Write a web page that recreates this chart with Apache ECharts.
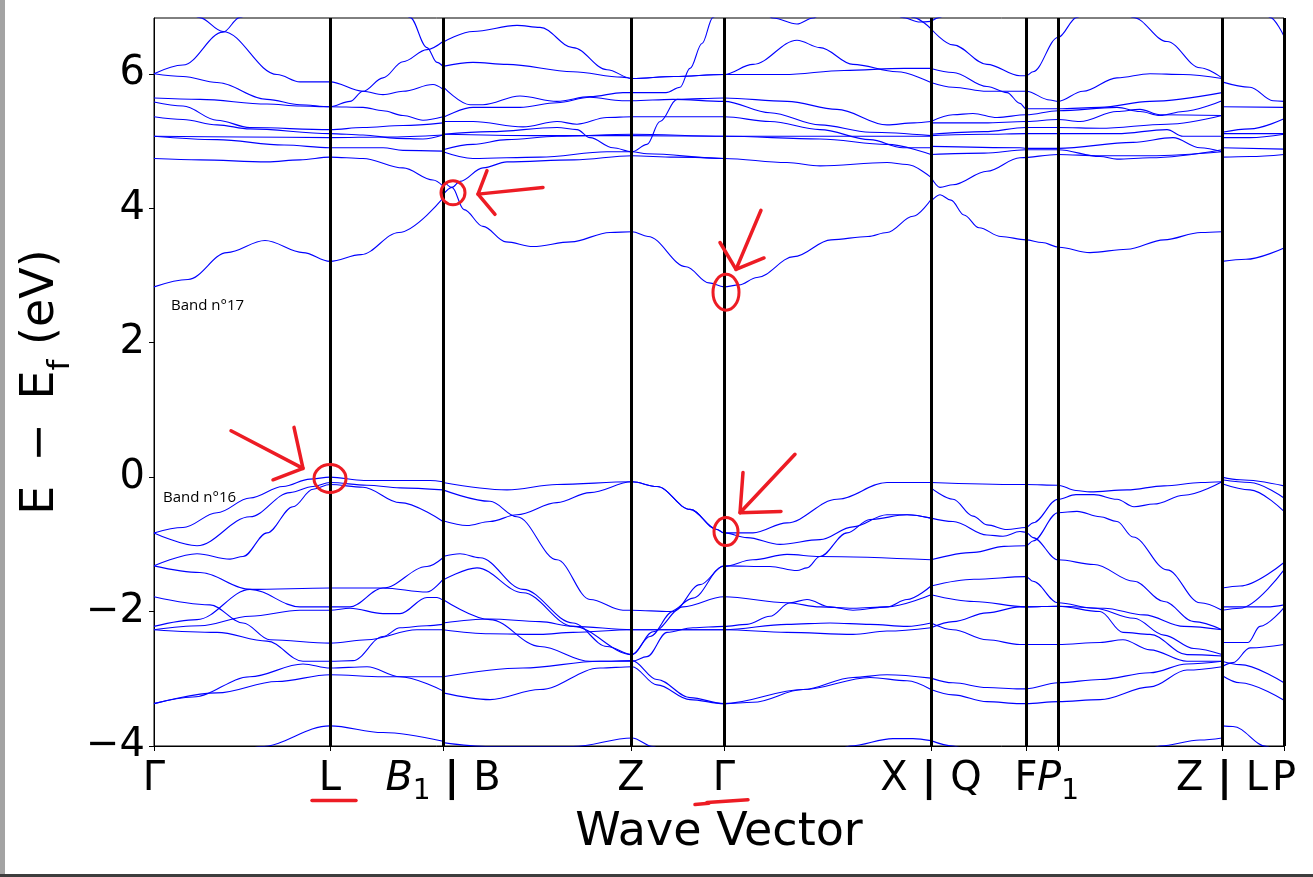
<!DOCTYPE html>
<html><head><meta charset="utf-8">
<script src="https://cdn.jsdelivr.net/npm/echarts@6/dist/echarts.min.js"></script>
<style>html,body{margin:0;padding:0;background:#fff;}#c{width:1313px;height:877px;}</style>
</head><body><div id="c"></div>
<script>
// High-symmetry points (path length) and their labels
const kPoints = [0, 176, 289, 477, 570, 777, 872, 904, 1068, 1130];
const kLabels = ['{m|Γ}', '{m|L}', '{i|B}{s|1}{b| | }{m|B}', '{m|Z}', '{m|Γ}', '{m|X}{b| | }{m|Q}', '{m|F}', '{i|P}{s|1}', '{m|Z}{b| | }{m|L}', '{m|P}'];
const yTicks = [-4, -2, 0, 2, 4, 6];
const yTitle = '{m|E \u2009−\u2009 E}{s|f}{m| (eV)}';

// Bands along Γ → L → B1   ([k, E-Ef] pairs)
const bandsGammaLB1 = [
  [[0,6.0],[29,6.13],[69,6.62],[86,6.84],[110,7.2]],
  [[25,7.2],[45,6.84],[69,6.63],[123,5.99],[146,5.88],[176,5.88],[209,5.74],[229,5.69],[249,5.74],[279,5.84],[289,5.77]],
  [[0,6.0],[29,5.96],[63,5.87],[113,5.62],[146,5.54],[176,5.51],[196,5.59],[209,5.74],[229,5.94],[249,6.18],[273,6.36],[289,6.48]],
  [[0,5.64],[46,5.62],[113,5.55],[146,5.52],[176,5.51],[209,5.50],[229,5.45],[249,5.38],[269,5.31],[289,5.36]],
  [[0,5.58],[29,5.52],[63,5.31],[96,5.2],[176,5.17],[209,5.2],[249,5.23],[289,5.27]],
  [[0,5.36],[29,5.32],[63,5.24],[96,5.18],[176,5.11],[209,5.09],[243,5.04],[269,5.03],[289,5.09]],
  [[0,5.07],[88,5.06],[176,5.05],[232,5.06],[289,5.09]],
  [[0,5.07],[63,5.02],[130,4.94],[176,4.90],[229,4.90],[249,4.86],[289,4.85]],
  [[0,4.74],[46,4.72],[113,4.69],[146,4.72],[176,4.76],[209,4.74],[249,4.60],[279,4.42],[289,4.33]],
  [[0,2.83],[34,2.94],[73,3.34],[111,3.52],[149,3.34],[176,3.21],[207,3.31],[245,3.64],[289,4.15]],
  [[240,7.2],[256,6.84],[273,6.39],[283,6.17],[289,6.11]],
  [[0,-0.83],[29,-0.75],[63,-0.53],[96,-0.31],[129,-0.14],[156,-0.03],[176,0.0],[210,-0.05],[246,-0.05],[276,-0.05],[289,-0.07]],
  [[0,-0.83],[43,-1.02],[96,-0.59],[136,-0.23],[159,-0.14],[176,-0.08],[213,-0.12],[246,-0.16],[289,-0.19]],
  [[0,-1.32],[43,-1.14],[76,-1.22],[89,-1.18],[113,-0.83],[139,-0.44],[159,-0.18],[176,-0.11],[209,-0.15],[246,-0.38],[289,-0.66]],
  [[0,-1.32],[46,-1.42],[96,-1.67],[146,-1.93],[176,-1.93],[196,-1.93],[229,-1.65],[273,-1.33],[289,-1.2]],
  [[0,-2.22],[43,-2.12],[96,-1.67],[176,-1.65],[229,-1.65],[273,-1.71],[289,-1.52]],
  [[0,-2.27],[46,-2.21],[96,-2.07],[146,-1.98],[176,-1.98],[196,-1.95],[229,-2.03],[246,-2.03],[273,-1.79],[283,-1.79],[289,-1.83]],
  [[0,-2.27],[63,-2.31],[113,-2.44],[149,-2.74],[176,-2.74],[199,-2.73],[229,-2.37],[246,-2.24],[273,-2.21],[289,-2.19]],
  [[0,-1.78],[56,-1.90],[89,-2.17],[116,-2.42],[176,-2.47],[213,-2.42],[263,-2.27],[289,-2.27]],
  [[0,-3.37],[39,-3.27],[96,-2.97],[149,-2.78],[176,-2.84],[213,-2.82],[246,-2.97],[289,-3.18]],
  [[0,-3.37],[63,-3.21],[123,-3.04],[176,-2.94],[229,-2.97],[289,-2.97]],
  [[70,-4.3],[106,-4.01],[176,-3.70],[229,-3.80],[289,-3.93]]
];

// Bands along B → Z → Γ → X
const bandsBZGammaX = [
  [[289,6.47],[319,6.63],[363,6.72],[386,6.69],[419,6.39],[453,6.06],[478,5.93],[520,5.96],[570,5.99],[599,6.14],[643,6.5],[666,6.39],[699,6.14],[743,6.03],[777,5.87]],
  [[289,6.11],[319,6.17],[353,6.14],[419,6.03],[468,5.95],[478,5.93],[520,5.96],[570,5.99],[630,5.99],[690,6.05],[750,6.08],[777,6.08]],
  [[289,5.81],[316,5.54],[329,5.54],[366,5.67],[403,5.59],[436,5.66],[469,5.72],[478,5.72],[512,5.72],[526,5.8],[536,6.08],[548,6.45],[559,6.84],[570,7.2]],
  [[289,5.35],[319,5.5],[366,5.5],[403,5.57],[436,5.65],[468,5.6],[478,5.6],[519,5.62],[570,5.59],[616,5.42],[666,5.24],[716,5.13],[777,5.08]],
  [[289,5.29],[319,5.29],[369,5.21],[403,5.29],[423,5.25],[453,5.35],[478,5.36],[570,5.36],[616,5.29],[666,5.17],[716,5.02],[749,4.9],[777,4.9]],
  [[289,5.10],[336,5.14],[403,5.2],[423,5.17],[436,5.05],[459,4.9],[478,4.84],[493,4.95],[506,5.29],[523,5.62],[570,5.64],[633,5.59],[683,5.47],[733,5.24],[760,5.27],[777,5.29]],
  [[289,5.10],[380,5.08],[478,5.08],[570,5.07],[700,5.07],[777,5.07]],
  [[289,4.87],[319,4.95],[353,5.02],[403,5.07],[478,5.10],[570,5.07],[666,5.03],[733,4.95],[777,4.8]],
  [[289,4.84],[319,4.74],[386,4.76],[453,4.84],[478,4.84],[493,4.81],[570,4.74],[633,4.68],[666,4.63],[733,4.68],[753,4.65],[777,4.46]],
  [[289,4.2],[298,4.31],[306,4.4],[329,4.6],[353,4.69],[420,4.72],[478,4.78],[520,4.76],[570,4.74]],
  [[289,4.42],[298,4.31],[310,3.98],[329,3.73],[352,3.5],[379,3.43],[417,3.5],[456,3.64],[478,3.65],[494,3.58],[532,3.13],[555,2.89],[570,2.83],[585,2.86],[603,2.97],[640,3.28],[677,3.53],[714,3.58],[733,3.64],[759,3.88],[777,4.13]],
  [[600,7.2],[619,6.83],[643,6.74],[659,6.83],[680,7.2]],
  [[730,7.2],[748,6.84],[766,6.77],[777,6.78]],
  [[740,7.3],[759,6.84],[777,6.67]],
  [[289,-0.08],[353,-0.19],[403,-0.11],[478,-0.07],[503,-0.14],[536,-0.48],[563,-0.78],[570,-0.83],[599,-0.83],[633,-0.68],[683,-0.33],[733,-0.08],[777,-0.08]],
  [[289,-0.65],[313,-0.72],[336,-0.66],[363,-0.56],[403,-0.38],[436,-0.23],[478,-0.07],[503,-0.14],[536,-0.48],[563,-0.78],[570,-0.83],[593,-0.9],[626,-1.0],[666,-0.93],[699,-0.74],[733,-0.56],[753,-0.56],[777,-0.61]],
  [[289,-0.19],[336,-0.36],[363,-0.59],[403,-1.23],[436,-1.82],[469,-1.98],[478,-1.98],[516,-2.0],[539,-1.8],[569,-1.33],[599,-1.23],[633,-1.15],[666,-1.18],[777,-1.23]],
  [[289,-1.18],[306,-1.14],[326,-1.2],[369,-1.67],[419,-2.17],[453,-2.52],[478,-2.64],[499,-2.3],[529,-1.93],[570,-1.78],[633,-1.87],[666,-1.93],[699,-1.95],[733,-1.93],[777,-1.75]],
  [[289,-1.53],[323,-1.35],[369,-1.72],[419,-2.22],[478,-2.64],[496,-2.37],[519,-2.0],[546,-1.6],[570,-1.32],[616,-1.33],[643,-1.39],[653,-1.35],[666,-1.18],[693,-0.83],[716,-0.63],[753,-0.56],[777,-0.61]],
  [[289,-1.82],[336,-2.12],[386,-2.52],[436,-2.74],[478,-2.74],[493,-2.67],[513,-2.31],[539,-2.24],[570,-2.22],[593,-2.19],[616,-2.07],[636,-1.87],[653,-1.82],[676,-1.93],[699,-1.98],[733,-1.93],[753,-1.82],[777,-1.62]],
  [[289,-2.17],[336,-2.11],[386,-2.15],[419,-2.22],[478,-2.27],[570,-2.27],[633,-2.19],[676,-2.17],[716,-2.19],[753,-2.22],[777,-2.17]],
  [[289,-2.27],[336,-2.33],[386,-2.34],[419,-2.31],[478,-2.27],[570,-2.27],[633,-2.31],[699,-2.34],[733,-2.29],[777,-2.24]],
  [[289,-2.97],[369,-2.84],[446,-2.74],[478,-2.73],[503,-3.01],[536,-3.28],[570,-3.37],[599,-3.35],[649,-3.16],[699,-2.98],[733,-2.94],[777,-2.99]],
  [[289,-3.21],[336,-3.31],[386,-3.16],[446,-2.84],[478,-2.82],[503,-3.09],[536,-3.31],[570,-3.37],[649,-3.16],[716,-2.98],[753,-3.03],[777,-3.16]],
  [[289,-3.95],[336,-4.01],[419,-4.01],[478,-3.88],[499,-4.01],[520,-4.3]],
  [[670,-4.3],[696,-4.0],[739,-3.89],[759,-3.89],[777,-3.92]]
];

// Bands along Q → F → P1 → Z
const bandsQFP1Z = [
  [[777,6.67],[799,6.43],[833,6.14],[866,5.97],[872,5.97],[879,6.03],[904,6.54],[923,6.84],[940,7.2]],
  [[777,6.08],[799,6.02],[833,5.81],[853,5.72],[866,5.56],[872,5.48],[904,5.48],[946,5.5],[996,5.59],[1068,5.72]],
  [[777,5.87],[799,5.80],[833,5.74],[872,5.74],[896,5.61],[904,5.59],[929,5.74],[963,5.94],[996,6.0],[1029,5.99],[1068,5.93]],
  [[777,5.29],[799,5.39],[819,5.41],[843,5.35],[872,5.39],[904,5.45],[963,5.5],[986,5.44],[1006,5.38],[1029,5.44],[1068,5.6]],
  [[777,5.27],[830,5.27],[872,5.29],[904,5.32],[926,5.29],[963,5.44],[986,5.47],[1006,5.39],[1068,5.38]],
  [[777,5.1],[830,5.14],[872,5.2],[904,5.2],[946,5.19],[1013,5.25],[1068,5.38]],
  [[777,5.08],[830,5.1],[872,5.11],[904,5.11],[963,5.11],[1013,5.17],[1029,5.07],[1068,5.07]],
  [[777,4.92],[866,4.9],[872,4.89],[904,4.89],[979,4.98],[1019,5.05],[1046,4.9],[1068,4.84]],
  [[777,4.8],[830,4.82],[872,4.87],[904,4.87],[946,4.77],[963,4.73],[996,4.75],[1068,4.87]],
  [[777,4.46],[786,4.31],[799,4.35],[833,4.55],[866,4.75],[904,4.8],[946,4.78],[996,4.78],[1068,4.84]],
  [[960,7.2],[979,6.84],[1013,6.48],[1046,6.09],[1068,5.94]],
  [[777,6.78],[786,6.84],[800,7.2]],
  [[777,4.1],[786,4.2],[797,4.12],[810,3.9],[825,3.71],[847,3.58],[872,3.53],[888,3.49],[905,3.42],[936,3.34],[973,3.39],[1010,3.53],[1047,3.64],[1068,3.65]],
  [[777,-0.08],[866,-0.11],[872,-0.11],[904,-0.12],[922,-0.2],[936,-0.22],[973,-0.19],[1010,-0.13],[1047,-0.08],[1068,-0.07]],
  [[777,-0.16],[799,-0.33],[819,-0.58],[833,-0.71],[853,-0.78],[872,-0.75],[879,-0.68],[904,-0.33],[922,-0.26],[940,-0.26],[963,-0.33],[980,-0.44],[1000,-0.4],[1030,-0.27],[1068,-0.07]],
  [[777,-0.61],[799,-0.66],[833,-0.86],[849,-0.88],[866,-0.81],[872,-0.82],[879,-0.9],[904,-1.23],[940,-1.3],[980,-1.55],[1010,-1.85],[1040,-2.15],[1068,-2.27]],
  [[777,-1.23],[820,-1.12],[850,-1.03],[872,-1.02],[879,-0.95],[904,-0.53],[923,-0.51],[946,-0.59],[963,-0.66],[979,-0.89],[1013,-1.38],[1046,-1.87],[1068,-1.98]],
  [[777,-1.62],[820,-1.52],[872,-1.48],[879,-1.55],[904,-1.87],[940,-1.95],[980,-2.1],[1010,-2.35],[1040,-2.55],[1068,-2.64]],
  [[777,-1.75],[820,-1.85],[872,-1.93],[904,-1.92],[950,-1.95],[990,-2.05],[1030,-2.22],[1068,-2.27]],
  [[777,-2.24],[799,-2.15],[833,-2.02],[866,-1.93],[872,-1.93],[904,-1.92],[946,-2.0],[969,-2.31],[996,-2.34],[1033,-2.64],[1068,-2.66]],
  [[777,-2.17],[799,-2.27],[833,-2.42],[866,-2.49],[872,-2.49],[904,-2.49],[946,-2.46],[969,-2.42],[996,-2.57],[1033,-2.74],[1068,-2.74]],
  [[777,-2.99],[799,-3.06],[833,-3.13],[866,-3.15],[872,-3.15],[904,-3.06],[946,-3.01],[996,-2.91],[1033,-2.78],[1068,-2.74]],
  [[777,-3.16],[799,-3.24],[833,-3.34],[866,-3.37],[872,-3.37],[904,-3.34],[946,-3.31],[996,-3.12],[1033,-2.87],[1068,-2.82]],
  [[777,-3.92],[799,-4.0],[830,-4.3]],
  [[980,-4.3],[1006,-4.0],[1046,-3.91],[1068,-3.88]]
];

// Bands along L → P
const bandsLP = [
  [[1068,0.0],[1086,-0.04],[1130,-0.13]],
  [[1068,-0.04],[1096,-0.08],[1130,-0.31]],
  [[1068,-0.1],[1096,-0.19],[1130,-0.51]],
  [[1068,-1.65],[1086,-1.62],[1130,-1.27]],
  [[1068,-1.93],[1113,-1.93],[1130,-1.9]],
  [[1068,-1.98],[1086,-1.95],[1130,-1.38]],
  [[1068,-2.46],[1094,-2.46],[1106,-2.22],[1130,-1.94]],
  [[1068,-2.82],[1079,-2.76],[1096,-2.54],[1130,-2.49]],
  [[1068,-2.74],[1086,-2.79],[1130,-3.06]],
  [[1068,-2.95],[1086,-3.06],[1130,-3.32]],
  [[1068,-3.7],[1079,-3.71],[1113,-4.01],[1125,-4.2]],
  [[1068,3.21],[1092,3.24],[1130,3.41]],
  [[1068,5.88],[1096,5.8],[1119,5.6],[1130,5.59]],
  [[1068,5.51],[1130,5.5]],
  [[1068,5.13],[1096,5.18],[1130,5.33]],
  [[1068,5.11],[1130,5.11]],
  [[1068,5.05],[1096,5.05],[1130,5.1]],
  [[1068,4.9],[1130,4.88]],
  [[1068,4.76],[1096,4.77],[1130,4.8]],
  [[1105,7.2],[1116,6.84],[1130,6.56]]
];

// Hand-drawn annotations, anchored in data coordinates
const circleCenters = [[299,4.23],[572,2.75],[176,-0.02],[572,-0.81]];
const arrowStrokes = [
  [[389,4.31],[324,4.21]], [[333,4.56],[324,4.21],[341,3.91]],
  [[607,3.97],[582,3.09]], [[566,3.49],[582,3.09],[610,3.26]],
  [[77,0.69],[149,0.13]], [[140,0.74],[149,0.13],[119,-0.04]],
  [[641,0.34],[586,-0.53]], [[589,0.07],[586,-0.53],[627,-0.51]],
  [[158,-4.81],[202,-4.81]],
  [[541,-4.87],[555,-4.85]], [[553,-4.84],[594,-4.80]]
];
const bandNotes = [{text:'Band n°17', at:[17,2.55]}, {text:'Band n°16', at:[9,-0.31]}];

const chart = echarts.init(document.getElementById('c'), null, {renderer:'canvas'});
const series = [];
[bandsGammaLB1, bandsBZGammaX, bandsQFP1Z, bandsLP].forEach(group => {
  group.forEach(curve => series.push({
    type:'line', data:curve, smooth:0.35, smoothMonotone:'x', symbol:'none', showSymbol:false,
    silent:true, lineStyle:{color:'#0000ff', width:1.1}, z:2, clip:true
  }));
});
series.push({
  type:'line', data:[], silent:true, z:10,
  markLine:{silent:true, symbol:['none','none'], label:{show:false}, animation:false,
    lineStyle:{color:'#000', width:3, type:'solid'},
    data:kPoints.slice(1).map(k => ({xAxis:k}))}
});

const FONT = 'DejaVu Sans';
chart.setOption({
  animation:false,
  backgroundColor:'#ffffff',
  grid:{left:154, right:29, top:18, bottom:131, show:true, borderColor:'#000', borderWidth:1, outerBoundsMode:'none'},
  xAxis:{
    type:'value', min:0, max:1130,
    axisLine:{show:true, onZero:false, lineStyle:{color:'#000', width:1}},
    axisTick:{show:true, length:5, customValues:kPoints, lineStyle:{color:'#000', width:1}},
    splitLine:{show:false},
    axisLabel:{customValues:kPoints, color:'#000', fontFamily:FONT, fontSize:40, margin:8,
      formatter:v => { const i = kPoints.indexOf(v); return i >= 0 ? kLabels[i] : ''; },
      rich:{ m:{fontFamily:FONT, fontSize:40, lineHeight:52, color:'#000'},
             i:{fontStyle:'italic', fontFamily:FONT, fontSize:40, lineHeight:52, color:'#000'},
             b:{fontWeight:'bold', fontFamily:FONT, fontSize:40, lineHeight:52, color:'#000'},
             s:{fontFamily:FONT, fontSize:28, lineHeight:28, verticalAlign:'bottom', color:'#000'} }},
    name:'Wave Vector', nameLocation:'middle', nameGap:64, nameMoveOverlap:false,
    nameTextStyle:{color:'#000', fontFamily:FONT, fontSize:46}
  },
  yAxis:{
    type:'value', min:-4, max:6.83, interval:2,
    axisLine:{show:true, lineStyle:{color:'#000', width:1}},
    axisTick:{show:true, length:5, customValues:yTicks, lineStyle:{color:'#000', width:1}},
    splitLine:{show:false},
    axisLabel:{customValues:yTicks, color:'#000', fontFamily:FONT, fontSize:40, margin:9,
      formatter:v => v < 0 ? '\u2212' + Math.abs(v) : String(v)}
  },
  series:series
});

const red = '#ed1c24';
const toPx = p => chart.convertToPixel({gridIndex:0}, p);
const radii = [[12,12],[13,18],[16,14],[12,14]];
const g = [];
g.push({type:'rect', silent:true, shape:{x:0, y:0, width:5, height:877}, style:{fill:'#a3a3a3'}});
g.push({type:'rect', silent:true, shape:{x:0, y:874, width:1313, height:3}, style:{fill:'#3d3d3d'}});
// y-axis title, centred on the plot's vertical middle
const mid = toPx([0, (-4 + 6.83) / 2]);
g.push({type:'text', silent:true, z:50, x:47, y:mid[1], rotation:Math.PI / 2,
  style:{text:yTitle, align:'center', verticalAlign:'middle', fill:'#000',
    fontFamily:FONT, fontSize:46,
    rich:{ m:{fontFamily:FONT, fontSize:46, fill:'#000', lineHeight:58, verticalAlign:'top'},
           s:{fontFamily:FONT, fontSize:31, fill:'#000', lineHeight:31, verticalAlign:'bottom'} }}});
circleCenters.forEach((c, i) => {
  const p = toPx(c);
  g.push({type:'ellipse', silent:true, z:100, shape:{cx:p[0], cy:p[1], rx:radii[i][0], ry:radii[i][1]},
    style:{fill:'none', stroke:red, lineWidth:3}});
});
arrowStrokes.forEach(s => {
  g.push({type:'polyline', silent:true, z:100, shape:{points:s.map(toPx)},
    style:{fill:'none', stroke:red, lineWidth:3.5, lineCap:'round', lineJoin:'round'}});
});
bandNotes.forEach(b => {
  const p = toPx(b.at);
  g.push({type:'text', silent:true, z:100, x:p[0], y:p[1],
    style:{text:b.text, fontFamily:'Open Sans', fontSize:15, fill:'#000', verticalAlign:'middle', align:'left'}});
});
chart.setOption({graphic:g});
</script>
</body></html>
